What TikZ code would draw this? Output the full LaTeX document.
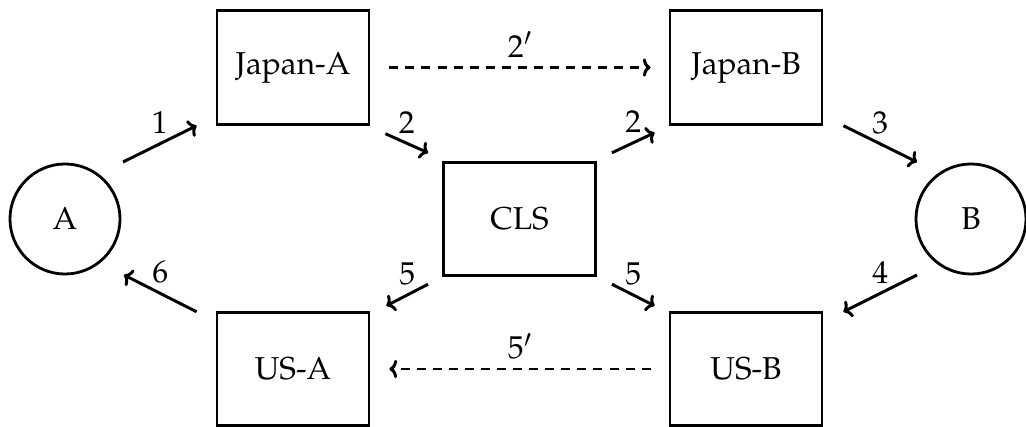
\documentclass[tikz,border=0pt]{standalone}
\usepackage[T1]{fontenc}
\usepackage{mathpazo}
\usetikzlibrary{calc,arrows.meta}
\begin{document}
\begin{tikzpicture}[x=0.025cm,y=-0.025cm,
  font=\fontsize{22.5}{27}\selectfont,
  party/.style={circle,draw,line width=2pt,minimum size=2.75cm,inner sep=0pt},
  house/.style={rectangle,draw,line width=2pt,minimum width=3.8cm,minimum height=2.84cm,inner sep=0pt},
  tip/.style={-{To[length=5.5pt,width=13pt]}},
  flow/.style={tip,line width=2.1pt},
  alt/.style={tip,line width=2.1pt,dash pattern=on 6.4pt off 5pt},
  lbl/.style={midway,above=4pt,inner sep=2pt}]
\useasboundingbox (0,0) rectangle (1026,427);

% parties and settlement houses
\node[party] (A)   at (65,219)    {A};
\node[party] (B)   at (971,219)   {B};
\node[house] (JA)  at (293,67.5)  {Japan-A};
\node[house] (JB)  at (746,67.5)  {Japan-B};
\node[house] (CLS) at (519.5,219) {CLS};
\node[house] (USA) at (293,369)   {US-A};
\node[house] (USB) at (746,369)   {US-B};

% payment legs
\draw[flow] ($(A.center)+(58,-57)$) -- ($(JA.south west)+(-19,0)$) node[lbl] {1};
\draw[flow] ($(JA.south east)+(15,8)$) -- ($(CLS.north west)+(-14,-8)$) node[lbl] {2};
\draw[flow] ($(CLS.north east)+(15,-8)$) -- ($(JB.south west)+(-14,7)$) node[lbl] {2};
\draw[flow] ($(JB.south east)+(20,0)$) -- ($(B.center)+(-54,-57)$) node[lbl] {3};
\draw[flow] ($(B.center)+(-54,56)$) -- ($(USB.north east)+(20,1)$) node[lbl] {4};
\draw[flow] ($(CLS.south west)+(-14,7)$) -- ($(USA.north east)+(16,-5)$) node[lbl] {5};
\draw[flow] ($(CLS.south east)+(15,7)$) -- ($(USB.north west)+(-14,-5)$) node[lbl] {5};
\draw[flow] ($(USA.north west)+(-19,1)$) -- ($(A.center)+(59,56)$) node[lbl] {6};

% direct alternatives
\draw[alt] ($(JA.east)+(19,0)$) -- ($(JB.west)+(-18,0)$) node[lbl] {$2'$};
\draw[alt] ($(USB.west)+(-18,0)$) -- ($(USA.east)+(19,0)$) node[lbl] {$5'$};
\end{tikzpicture}
\end{document}
